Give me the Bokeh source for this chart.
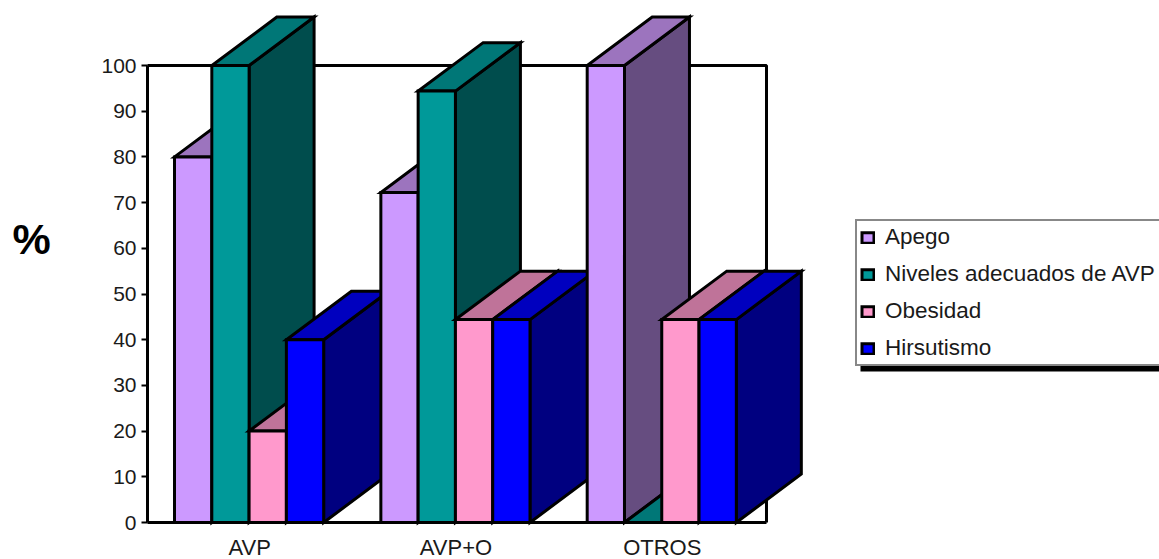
from bokeh.plotting import figure
from bokeh.models import (Range1d, FixedTicker, Legend, LegendItem, Label, BoxAnnotation)
from bokeh.embed import file_html
from bokeh.resources import INLINE

categories = ["AVP", "AVP+O", "OTROS"]
series = ["Apego", "Niveles adecuados de AVP", "Obesidad", "Hirsutismo"]
apego = [80, 72.2, 100]
niveles = [100, 94.4, 0]
obesidad = [20, 44.4, 44.4]
hirsutismo = [40, 44.4, 44.4]
values = [apego, niveles, obesidad, hirsutismo]

front = ["#CC99FF", "#009999", "#FF99CC", "#0000FF"]
top = ["#9C74BE", "#007777", "#BF7399", "#0000BF"]
side = ["#664D80", "#004D4D", "#804D66", "#000080"]
ink = "#000000"
text_color = "#1a1a1a"

# Extruded-bar geometry, in data units
BAR_W = 0.1807
GROUP_PAD = 0.131
DEPTH_X = 0.315
DEPTH_Y = 10.6

W, H = 1159, 559
ORIGIN_X, ORIGIN_Y = 147, 522
px_per_group = 206.33
px_per_pct = 4.57

# The frame fills the whole canvas; the axes are pinned at the data origin
p = figure(width=W, height=H, output_backend="svg", toolbar_location=None,
           min_border=0,
           x_range=Range1d(-ORIGIN_X / px_per_group, (W - ORIGIN_X) / px_per_group),
           y_range=Range1d(-(H - ORIGIN_Y) / px_per_pct, ORIGIN_Y / px_per_pct),
           outline_line_color=None, background_fill_color="white")
p.grid.visible = False

ya = p.yaxis[0]
ya.fixed_location = 0
ya.bounds = (0, 100)
ya.ticker = FixedTicker(ticks=list(range(0, 101, 10)))
ya.minor_tick_line_color = None
ya.axis_line_width = 3
ya.axis_line_color = ink
ya.major_tick_line_color = ink
ya.major_tick_line_width = 2
ya.major_tick_out = 6
ya.major_tick_in = 0
ya.major_label_standoff = 5
ya.major_label_text_font = "Liberation Sans"
ya.major_label_text_font_size = "21px"
ya.major_label_text_color = text_color

# Category names sit a touch left of each group's centre
label_ticks = [0.495, 1.495, 2.495]
xa = p.xaxis[0]
xa.fixed_location = 0
xa.bounds = (0, 3)
xa.ticker = FixedTicker(ticks=label_ticks)
xa.major_label_overrides = dict(zip(label_ticks, categories))
xa.minor_tick_line_color = None
xa.major_tick_line_color = None
xa.axis_line_width = 3
xa.axis_line_color = ink
xa.major_label_standoff = 6
xa.major_label_text_font = "Liberation Sans"
xa.major_label_text_font_size = "22px"
xa.major_label_text_color = text_color

# Upper and right edges of the plot box
p.line([0, 3, 3], [100, 100, 0], line_color=ink, line_width=3)

legend_items = []
for g in range(len(categories)):
    for s, name in enumerate(series):
        v = values[s][g]
        x0 = g + GROUP_PAD + s * BAR_W
        x1 = x0 + BAR_W
        style = dict(line_color=ink, line_width=3, line_join="miter")
        p.patch([x1, x1 + DEPTH_X, x1 + DEPTH_X, x1],
                [0, DEPTH_Y, v + DEPTH_Y, v], fill_color=side[s], **style)
        p.patch([x0, x1, x1 + DEPTH_X, x0 + DEPTH_X],
                [v, v, v + DEPTH_Y, v + DEPTH_Y], fill_color=top[s], **style)
        r = p.quad(left=x0, right=x1, bottom=0, top=v, fill_color=front[s], **style)
        if g == 0:
            legend_items.append(LegendItem(label=name, renderers=[r]))

# Large percent sign beside the value axis
p.add_layout(Label(x=(12 - ORIGIN_X) / px_per_group, y=(ORIGIN_Y - 238) / px_per_pct,
                   text="%", text_font="Liberation Sans",
                   text_font_size="43px", text_font_style="bold",
                   text_color=ink, text_align="left", text_baseline="middle"))

# Drop shadow under the legend
p.add_layout(BoxAnnotation(left=(860 - ORIGIN_X) / px_per_group,
                           right=(1175 - ORIGIN_X) / px_per_group,
                           top=(ORIGIN_Y - 224) / px_per_pct,
                           bottom=(ORIGIN_Y - 371) / px_per_pct,
                           fill_color=ink, fill_alpha=1, line_color=None))

legend = Legend(items=legend_items, location=(855, 193),
                border_line_color="#111111", border_line_width=2,
                background_fill_color="white", background_fill_alpha=1,
                label_text_font="Liberation Sans", label_text_font_size="22.5px",
                label_text_color=text_color,
                glyph_width=15, glyph_height=13, label_standoff=10,
                spacing=11, padding=3, margin=0, label_height=24, label_width=290)
p.add_layout(legend, "center")

open("out.html", "w").write(file_html(p, INLINE))
